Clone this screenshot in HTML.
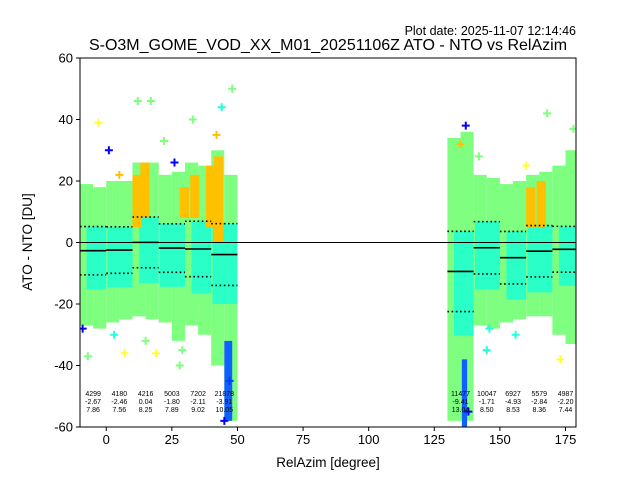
<!DOCTYPE html>
<html><head><meta charset="utf-8"><style>
body{margin:0;background:#fff;}
svg{display:block;font-family:"Liberation Sans","DejaVu Sans",sans-serif;}
</style></head><body>
<svg id="c" width="640" height="480" viewBox="0 0 640 480">
<text x="576" y="35" text-anchor="end" font-size="12.5">Plot date: 2025-11-07 12:14:46</text>
<text x="328" y="50" text-anchor="middle" font-size="16">S-O3M_GOME_VOD_XX_M01_20251106Z ATO - NTO vs RelAzim</text>
<g id="plot"></g>
<text x="328" y="467" text-anchor="middle" font-size="13.5">RelAzim [degree]</text>
<text transform="translate(32,242) rotate(-90)" text-anchor="middle" font-size="13.5">ATO - NTO [DU]</text>
</svg>
<script>
const binStart=[-10,0,10,20,30,40,130,140,150,160,170];
const binCount=[4299,4180,4216,5003,7202,21878,11477,10047,6927,5579,4987];
const binMean=[-2.67,-2.46,0.04,-1.80,-2.11,-3.91,-9.41,-1.71,-4.93,-2.84,-2.20];
const binStd=[7.86,7.56,8.25,7.89,9.02,10.05,13.04,8.50,8.53,8.36,7.44];
const segX=[-10,-5,0,5,10,15,20,25,30,35,40,45,130,135,140,145,150,155,160,165,170,175];
const segLo=[-27,-28,-26,-25,-24,-25,-26,-32,-27,-30,-40,-58,-58,-58,-27,-28,-26,-25,-24,-24,-30,-33];
const segHi=[19,18,20,20,26,26,22,23,26,25,30,22,34,36,22,21,19,20,22,23,25,30];
const hotX=[10,13,28,32,38,41,160,164];
const hotLo=[5,8,8,8,5,0,5,5];
const hotHi=[22,26,18,22,25,28,18,20];
const outX=[-3,1,7,12,17,19,22,28,33,42,44,47,48,45,135,137,138,145,168,178,160,5,15,-7,26,29,3,-9,173,156,146,142];
const outY=[39,30,-36,46,46,-36,33,-40,40,35,44,-45,50,-58,32,38,-55,-35,42,37,25,22,-32,-37,26,-35,-30,-28,-38,-30,-28,28];
const outC=["#ffff33","#0000ff","#ffff33","#7fff7f","#7fff7f","#ffff33","#7fff7f","#7fff7f","#7fff7f","#ffc000","#22ffdd","#0040ff","#7fff7f","#0000ff","#ffc000","#0000ff","#0000ff","#22ffdd","#7fff7f","#7fff7f","#ffff33","#ffc000","#7fff7f","#7fff7f","#0000ff","#7fff7f","#22ffdd","#0000ff","#ffff33","#22ffdd","#22ffdd","#7fff7f"];
const xTicks=[0,25,50,75,100,125,150,175];
const yTicks=[60,40,20,0,-20,-40,-60];

const L=80,R=576,T=58,B=427,X0=-10,X1=179,Y0=-60,Y1=60;
const sx=v=>L+(v-X0)/(X1-X0)*(R-L);
const sy=v=>B-(v-Y0)/(Y1-Y0)*(B-T);
const NS="http://www.w3.org/2000/svg";
const g=document.getElementById('plot');
function mk(t,a,p){const e=document.createElementNS(NS,t);for(const k in a)e.setAttribute(k,a[k]);(p||g).appendChild(e);return e;}
const clip=mk('clipPath',{id:'cl'});mk('rect',{x:L,y:T,width:R-L,height:B-T},clip);
const data=mk('g',{'clip-path':'url(#cl)'});


for(let i=0;i<segX.length;i++){
  const x=segX[i],w=Math.min(5,X1-x);
  const r=mk('rect',{x:sx(x),y:sy(segHi[i]),width:sx(x+w)-sx(x),height:sy(segLo[i])-sy(segHi[i]),fill:'#7fff7f'},data);
  
  
}
for(let i=0;i<binStart.length;i++){
  const x=binStart[i],w=Math.min(10,X1-x);
  const lo=binMean[i]-binStd[i]*1.6,hi=binMean[i]+binStd[i]*1.0;
  const off=(i%2?0.5:2.5);
  const r=mk('rect',{x:sx(x+off),y:sy(hi),width:sx(x+w)-sx(x+off),height:sy(lo)-sy(hi),fill:'#2affc8'},data);
  
  
}
[[45,48,-32,-58],[135.5,137.5,-38,-60]].forEach(b=>{
  const r=mk('rect',{x:sx(b[0]),y:sy(b[2]),width:sx(b[1])-sx(b[0]),height:sy(b[3])-sy(b[2]),fill:'#1060ff'},data);
  
  
});
for(let i=0;i<hotX.length;i++){
  const r=mk('rect',{x:sx(hotX[i]),y:sy(hotHi[i]),width:sx(hotX[i]+3.5)-sx(hotX[i]),height:sy(hotLo[i])-sy(hotHi[i]),fill:'#ffc000'},data);
  
  
}
for(let i=0;i<outX.length;i++){
  const x=sx(outX[i]),y=sy(outY[i]);
  const p=mk('path',{d:`M${x-4},${y}H${x+4}M${x},${y-4}V${y+4}`,stroke:outC[i],'stroke-width':2},data);
  
  
}
const z=mk('line',{x1:L,x2:R,y1:sy(0),y2:sy(0),stroke:'#000','stroke-width':1});


for(let i=0;i<binStart.length;i++){
  const x1=sx(binStart[i]),x2=sx(Math.min(binStart[i]+10,X1));
  const m=mk('line',{x1:x1,x2:x2,y1:sy(binMean[i]),y2:sy(binMean[i]),stroke:'#000','stroke-width':1.6});
  
  
  [1,-1].forEach(s=>{
    const v=binMean[i]+s*binStd[i];
    const d=mk('line',{x1:x1,x2:x2,y1:sy(v),y2:sy(v),stroke:'#000','stroke-width':1.6,'stroke-dasharray':'1.6,2.6'});
    
    
  });
  const cx=sx(binStart[i]+5);
  const t=mk('text',{x:cx,y:396,'text-anchor':'middle','font-size':'7'});
  
  
  [binCount[i],binMean[i].toFixed(2),binStd[i].toFixed(2)].forEach((s,k)=>{
    const ts=mk('tspan',{x:cx,dy:k?8:0},t);ts.textContent=s;
  });
}
const fr=mk('rect',{x:L,y:T,width:R-L,height:B-T,fill:'none',stroke:'#000','stroke-width':1});


xTicks.forEach(v=>{
  const x=sx(v);
  mk('line',{x1:x,x2:x,y1:B,y2:B+4,stroke:'#000'});
  const t=mk('text',{x:x,y:B+17,'text-anchor':'middle','font-size':'13'});
  t.textContent=v;
  
  
});
yTicks.forEach(v=>{
  const y=sy(v);
  mk('line',{x1:L-4,x2:L,y1:y,y2:y,stroke:'#000'});
  const t=mk('text',{x:L-7,y:y+4.5,'text-anchor':'end','font-size':'13'});
  t.textContent=v;
  
  
});
</script>
</body></html>
